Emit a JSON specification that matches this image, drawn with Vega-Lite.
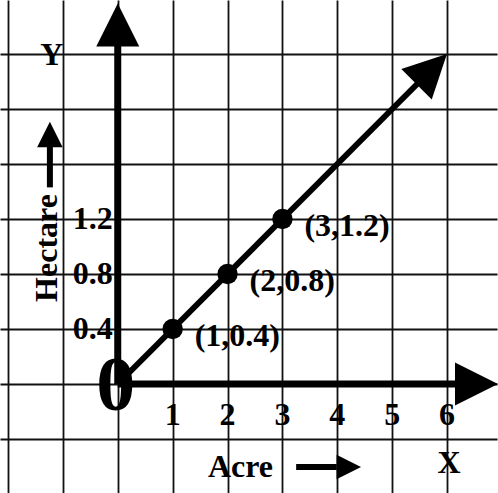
{
  "$schema": "https://vega.github.io/schema/vega-lite/v6.json",
  "width": 498,
  "height": 493,
  "autosize": {"type": "fit", "contains": "padding"},
  "padding": 0,
  "background": "white",
  "config": {"view": {"stroke": null}},
  "encoding": {
    "x": {"field": "x", "type": "quantitative",
      "scale": {"domain": [-2.145, 6.909], "nice": false, "zero": false},
      "axis": {"values": [-2, -1, 0, 1, 2, 3, 4, 5, 6], "grid": true, "gridColor": "#111", "gridWidth": 1.8, "gridOpacity": 1, "labels": false, "ticks": false, "domain": false, "title": null}},
    "y": {"field": "y", "type": "quantitative",
      "scale": {"domain": [-0.7927, 2.7927], "nice": false, "zero": false},
      "axis": {"values": [-0.4, 0, 0.4, 0.8, 1.2, 1.6, 2, 2.4], "grid": true, "gridColor": "#111", "gridWidth": 1.8, "gridOpacity": 1, "labels": false, "ticks": false, "domain": false, "title": null}}
  },
  "layer": [
    {
      "data": {"values": [
        {"x": 0, "y": 0, "x2": 0, "y2": 2.46},
        {"x": 0, "y": 0, "x2": 6.2, "y2": 0}
      ]},
      "mark": {"type": "rule", "color": "black", "strokeWidth": 7},
      "encoding": {"x2": {"field": "x2"}, "y2": {"field": "y2"}}
    },
    {
      "data": {"values": [
        {"x": 0, "y": 0, "x2": 5.5, "y2": 2.2},
        {"x": 3.25, "y": -0.6036, "x2": 3.99, "y2": -0.6036},
        {"x": -1.236, "y": 1.43, "x2": -1.236, "y2": 1.73}
      ]},
      "mark": {"type": "rule", "color": "black", "strokeWidth": 6},
      "encoding": {"x2": {"field": "x2"}, "y2": {"field": "y2"}, "strokeWidth": {"condition": {"test": "datum.x !== 0", "value": 4}, "value": 6.5}}
    },
    {
      "data": {"values": [{"x": 0, "y": 2.611}]},
      "mark": {"type": "point", "shape": "M0,-1L1,1L-1,1Z", "filled": true, "color": "black", "opacity": 1, "size": 1849, "angle": 0}
    },
    {
      "data": {"values": [{"x": 6.536, "y": 0}]},
      "mark": {"type": "point", "shape": "M0,-1L1,1L-1,1Z", "filled": true, "color": "black", "opacity": 1, "size": 1849, "angle": 90}
    },
    {
      "data": {"values": [{"x": 5.72, "y": 2.29}]},
      "mark": {"type": "point", "shape": "M0,-1L1,1L-1,1Z", "filled": true, "color": "black", "opacity": 1, "size": 1849, "angle": 45}
    },
    {
      "data": {"values": [{"x": 4.209, "y": -0.6036}]},
      "mark": {"type": "point", "shape": "M0,-1L1,1L-1,1Z", "filled": true, "color": "black", "opacity": 1, "size": 600, "angle": 90}
    },
    {
      "data": {"values": [{"x": -1.236, "y": 1.8145}]},
      "mark": {"type": "point", "shape": "M0,-1L1,1L-1,1Z", "filled": true, "color": "black", "opacity": 1, "size": 650, "angle": 0}
    },
    {
      "data": {"values": [
        {"x": 1, "y": 0.4, "label": "(1,0.4)"},
        {"x": 2, "y": 0.8, "label": "(2,0.8)"},
        {"x": 3, "y": 1.2, "label": "(3,1.2)"}
      ]},
      "layer": [
        {"mark": {"type": "point", "shape": "circle", "filled": true, "color": "black", "opacity": 1, "size": 415}},
        {"mark": {"type": "text", "align": "left", "baseline": "middle", "dx": 22, "dy": 7, "font": "Liberation Serif", "fontWeight": "bold", "fontSize": 32, "color": "black"},
         "encoding": {"text": {"field": "label"}}}
      ]
    },
    {
      "data": {"values": [
        {"x": 1, "y": 0, "label": "1"},
        {"x": 2, "y": 0, "label": "2"},
        {"x": 3, "y": 0, "label": "3"},
        {"x": 4, "y": 0, "label": "4"},
        {"x": 5, "y": 0, "label": "5"},
        {"x": 6, "y": 0, "label": "6"}
      ]},
      "mark": {"type": "text", "align": "center", "baseline": "middle", "dy": 31, "font": "Liberation Serif", "fontWeight": "bold", "fontSize": 32, "color": "black"},
      "encoding": {"text": {"field": "label"}}
    },
    {
      "data": {"values": [
        {"x": 0, "y": 0.4, "label": "0.4"},
        {"x": 0, "y": 0.8, "label": "0.8"},
        {"x": 0, "y": 1.2, "label": "1.2"}
      ]},
      "mark": {"type": "text", "align": "right", "baseline": "middle", "dx": -5, "dy": 0, "font": "Liberation Serif", "fontWeight": "bold", "fontSize": 32, "color": "black"},
      "encoding": {"text": {"field": "label"}}
    },
    {
      "data": {"values": [{"x": 0, "y": 0, "label": "0"}]},
      "mark": {"type": "text", "align": "center", "baseline": "middle", "dx": -2, "dy": 3, "font": "Liberation Serif", "fontWeight": "bold", "fontSize": 78, "color": "black"},
      "encoding": {"text": {"field": "label"}}
    },
    {
      "data": {"values": [
        {"x": -1.2, "y": 2.393, "label": "Y"},
        {"x": 6.036, "y": -0.5745, "label": "X"},
        {"x": 2.236, "y": -0.6036, "label": "Acre"}
      ]},
      "mark": {"type": "text", "align": "center", "baseline": "middle", "font": "Liberation Serif", "fontWeight": "bold", "fontSize": 32, "color": "black"},
      "encoding": {"text": {"field": "label"}}
    },
    {
      "data": {"values": [{"x": -1.29, "y": 0.989, "label": "Hectare"}]},
      "mark": {"type": "text", "align": "center", "baseline": "middle", "angle": 270, "font": "Liberation Serif", "fontWeight": "bold", "fontSize": 32, "color": "black"},
      "encoding": {"text": {"field": "label"}}
    }
  ]
}
